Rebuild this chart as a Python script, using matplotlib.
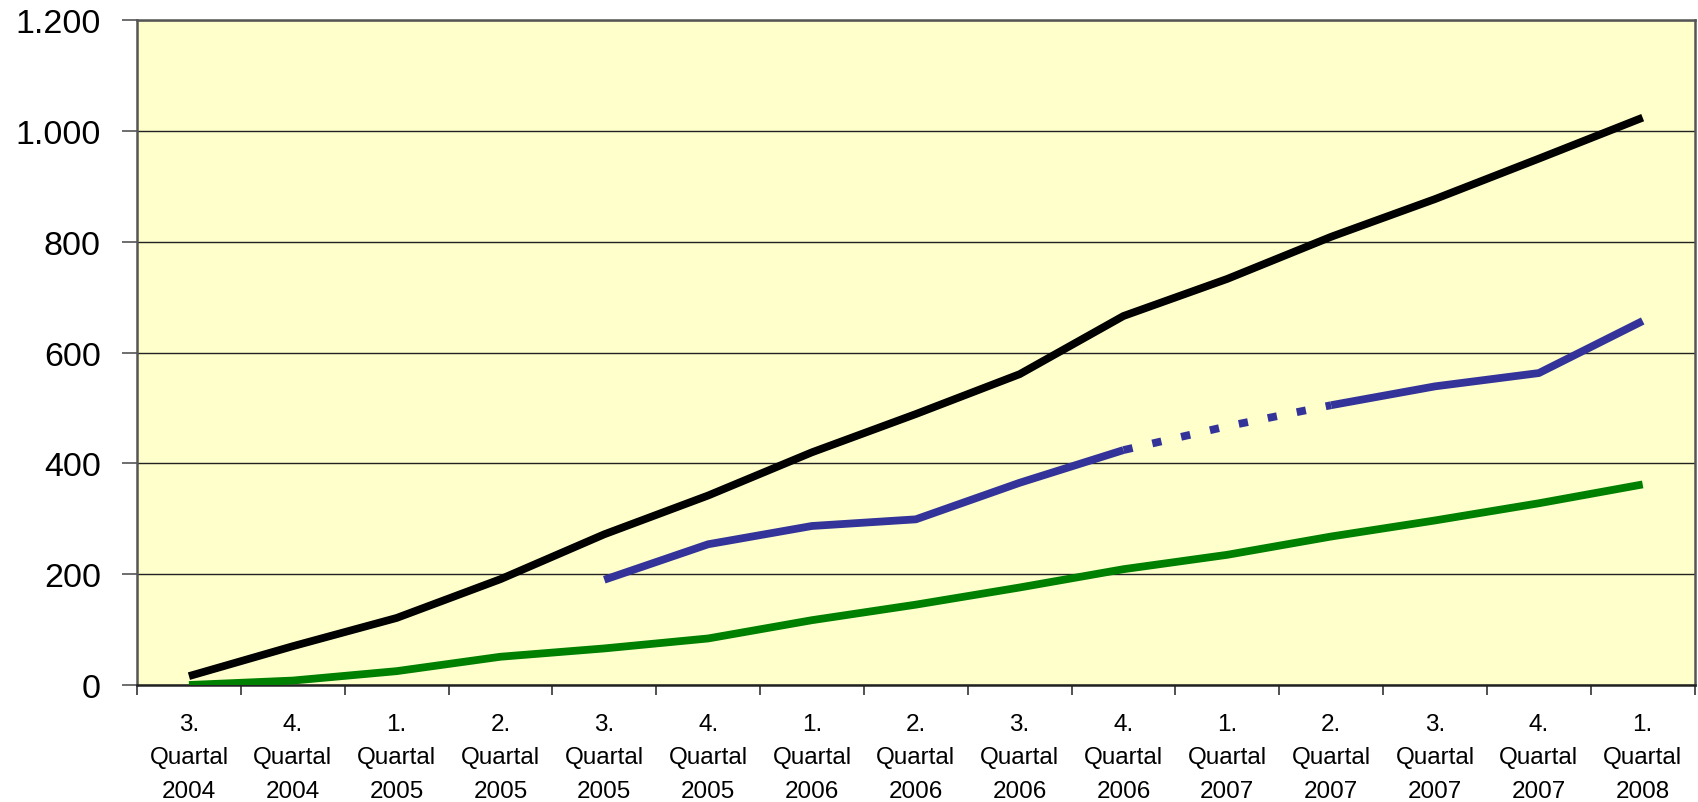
import numpy as np
import matplotlib
matplotlib.use("Agg")
import matplotlib.pyplot as plt
from matplotlib.ticker import FuncFormatter, FixedLocator

plt.rcParams['font.family'] = ['Liberation Sans', 'DejaVu Sans']

quarters = ["3.", "4.", "1.", "2.", "3.", "4.", "1.", "2.", "3.", "4.", "1.", "2.", "3.", "4.", "1."]
years = ["2004", "2004", "2005", "2005", "2005", "2005", "2006", "2006", "2006", "2006",
         "2007", "2007", "2007", "2007", "2008"]

total = [16, 70, 121, 191, 272, 342, 420, 489, 561, 666, 733, 809, 877, 950, 1024]
blue_series = [None, None, None, None, 190, 254, 287, 299, 365, 424, 467, 505, 539, 563, 657]
green_series = [0, 8, 25, 51, 66, 84, 117, 145, 176, 209, 235, 268, 297, 328, 362]
# indices where the blue series is shown as an estimate (dashed)
estimate_span = (9, 11)

fig = plt.figure(figsize=(16.98, 8.03), dpi=100)
ax = fig.add_axes([0.0807, 0.1457, 0.9173, 0.828])
ax.set_facecolor("#FFFFCC")

x = np.arange(len(quarters))
lw = 5.6

ax.plot(x, total, color="black", lw=lw, solid_capstyle="butt", zorder=3)
ax.plot(x, green_series, color="#008000", lw=lw, solid_capstyle="butt", zorder=3)

blue = np.array([np.nan if v is None else v for v in blue_series], dtype=float)
a, b = estimate_span
solid1 = blue.copy(); solid1[a + 1:] = np.nan
solid2 = blue.copy(); solid2[:b] = np.nan
dashed = np.full_like(blue, np.nan); dashed[a:b + 1] = blue[a:b + 1]
ax.plot(x, solid1, color="#333399", lw=lw, solid_capstyle="butt", zorder=3)
ax.plot(x, solid2, color="#333399", lw=lw, solid_capstyle="butt", zorder=3)
ax.plot(x, dashed, color="#333399", lw=lw, dashes=(1.2, 2.6), dash_capstyle="butt", zorder=3)

ax.set_xlim(-0.5, len(quarters) - 0.5)
ax.set_ylim(0, 1200)
ax.set_yticks(np.arange(0, 1201, 200))
ax.yaxis.set_major_formatter(FuncFormatter(lambda v, p: f"{int(v):,}".replace(",", ".")))
ax.grid(axis="y", color="#222222", lw=1.0, zorder=1)

ax.xaxis.set_major_locator(FixedLocator(np.arange(-0.5, len(quarters), 1.0)))
ax.xaxis.set_major_formatter(FuncFormatter(lambda v, p: ""))
ax.set_xticks(x, minor=True)
ax.set_xticklabels([f"{q}\nQuartal\n{y}" for q, y in zip(quarters, years)], minor=True,
                   fontsize=17.5, linespacing=1.68)
ax.tick_params(axis="x", which="minor", length=0, pad=20)
ax.tick_params(axis="x", which="major", length=7, width=1.2, color="#333333")
ax.tick_params(axis="y", length=11, width=1.2, color="#555555", labelsize=24.5, pad=15)

for side in ["left", "bottom", "right", "top"]:
    ax.spines[side].set_color("#555555")
    ax.spines[side].set_linewidth(1.8)
ax.spines["bottom"].set_color("#222222")

fig.savefig("out.png", dpi=100, facecolor="white")
